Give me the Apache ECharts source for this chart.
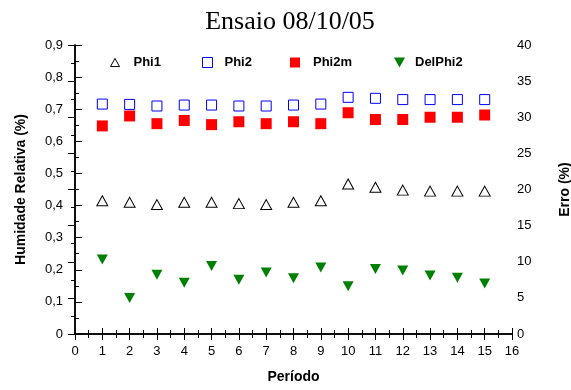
<!DOCTYPE html>
<html>
<head>
<meta charset="utf-8">
<script src="https://cdn.jsdelivr.net/npm/echarts@6/dist/echarts.min.js"></script>
<style>
  html, body { margin: 0; padding: 0; background: #fff; }
  #chart { width: 571px; height: 390px; }
</style>
</head>
<body>
<div id="chart"></div>
<script>
// Período 1..15
var periods = [1, 2, 3, 4, 5, 6, 7, 8, 9, 10, 11, 12, 13, 14, 15];

// Humidade relativa (fração) — eixo esquerdo
var phi1  = [0.415, 0.410, 0.403, 0.410, 0.410, 0.406, 0.403, 0.410, 0.415, 0.467, 0.457, 0.448, 0.445, 0.445, 0.445];
var phi2  = [0.716, 0.715, 0.710, 0.713, 0.713, 0.710, 0.710, 0.713, 0.716, 0.737, 0.734, 0.730, 0.730, 0.730, 0.730];
var phi2m = [0.648, 0.679, 0.655, 0.665, 0.652, 0.661, 0.655, 0.661, 0.655, 0.689, 0.668, 0.668, 0.675, 0.675, 0.682];

// Erro (%) — eixo direito
var delPhi2 = [10.3, 5.0, 8.2, 7.1, 9.4, 7.5, 8.5, 7.7, 9.2, 6.6, 9.0, 8.8, 8.1, 7.8, 7.0];

var seriesNames = ['Phi1', 'Phi2', 'Phi2m', 'DelPhi2'];

function pairs(xs, ys) {
  return xs.map(function (x, i) { return [x, ys[i]]; });
}

var fontSans = 'Liberation Sans, Arial, sans-serif';
var downTri = 'path://M0,0 L10,0 L5,9 Z';
var upTri = 'path://M5,0 L10,9 L0,9 Z';

var chart = echarts.init(document.getElementById('chart'), null, { renderer: 'canvas' });

var axisLineStyle = { color: '#000', width: 1.5 };
var tickStyle = { color: '#000', width: 1 };

// one legend block per series so each entry sits at its own spot inside the frame
function legendAt(name, left, size, padLeft) {
  return {
    data: [name],
    left: left,
    top: 56,
    itemWidth: size,
    itemHeight: size,
    itemGap: 0,
    itemStyle: { borderWidth: 1 },
    textStyle: { fontFamily: fontSans, fontWeight: 'bold', fontSize: 13, color: '#000', padding: [0, 0, 0, padLeft] },
    padding: 0
  };
}

chart.setOption({
  animation: false,
  backgroundColor: '#fff',
  title: {
    text: 'Ensaio 08/10/05',
    left: 285,
    textAlign: 'center',
    top: 4,
    textStyle: { fontFamily: 'Liberation Serif, Times New Roman, serif', fontWeight: 'normal', fontSize: 26, color: '#000' }
  },
  legend: [
    legendAt(seriesNames[0], 110, 9, 9),
    legendAt(seriesNames[1], 202, 10, 7),
    legendAt(seriesNames[2], 290, 10, 8),
    legendAt(seriesNames[3], 394, 11, 5)
  ],
  grid: { left: 75, right: 59, top: 45, bottom: 56, outerBoundsMode: 'none', containLabel: false },
  xAxis: [
    {
      type: 'value', min: 0, max: 16, interval: 1,
      name: 'Período', nameLocation: 'middle', nameGap: 36,
      nameTextStyle: { fontFamily: fontSans, fontWeight: 'bold', fontSize: 14, color: '#000' },
      axisLine: { show: true, lineStyle: axisLineStyle },
      axisTick: { show: true, inside: true, length: 6, lineStyle: tickStyle },
      minorTick: { show: true, splitNumber: 2, length: 4, lineStyle: tickStyle },
      axisLabel: { margin: 11, fontFamily: fontSans, fontSize: 13, color: '#000' },
      splitLine: { show: false }
    },
    {
      type: 'value', min: 0, max: 16, interval: 1, position: 'top',
      axisLine: { show: true, lineStyle: axisLineStyle },
      axisTick: { show: true, inside: true, length: 6, lineStyle: tickStyle },
      minorTick: { show: true, splitNumber: 2, length: 4, lineStyle: tickStyle },
      axisLabel: { show: false },
      splitLine: { show: false }
    }
  ],
  yAxis: [
    {
      type: 'value', min: 0, max: 0.9, interval: 0.1, position: 'left',
      name: 'Humidade Relativa (%)', nameLocation: 'middle', nameGap: 47, nameRotate: 90,
      nameTextStyle: { fontFamily: fontSans, fontWeight: 'bold', fontSize: 14, color: '#000' },
      axisLine: { show: true, lineStyle: axisLineStyle },
      axisTick: { show: true, inside: true, length: 7, lineStyle: tickStyle },
      minorTick: { show: true, splitNumber: 2, length: 4, lineStyle: tickStyle },
      axisLabel: {
        margin: 12, fontFamily: fontSans, fontSize: 13, color: '#000',
        formatter: function (v) { return (Math.round(v * 10) / 10).toString().replace('.', ','); }
      },
      splitLine: { show: false }
    },
    {
      type: 'value', min: 0, max: 40, interval: 5, position: 'right',
      name: 'Erro (%)', nameLocation: 'middle', nameGap: 46, nameRotate: 90,
      nameTextStyle: { fontFamily: fontSans, fontWeight: 'bold', fontSize: 14, color: '#000' },
      axisLine: { show: true, lineStyle: axisLineStyle },
      axisTick: { show: true, inside: true, length: 7, lineStyle: tickStyle },
      minorTick: { show: true, splitNumber: 2, length: 4, lineStyle: tickStyle },
      axisLabel: { margin: 5, fontFamily: fontSans, fontSize: 13, color: '#000' },
      splitLine: { show: false }
    }
  ],
  series: [
    {
      name: seriesNames[0], type: 'scatter', xAxisIndex: 0, yAxisIndex: 0,
      symbol: upTri, symbolSize: [11, 10],
      itemStyle: { color: '#fff', borderColor: '#000', borderWidth: 1, opacity: 1 },
      data: pairs(periods, phi1)
    },
    {
      name: seriesNames[1], type: 'scatter', xAxisIndex: 0, yAxisIndex: 0,
      symbol: 'rect', symbolSize: 10,
      itemStyle: { color: '#fff', borderColor: '#0000ff', borderWidth: 1, opacity: 1 },
      data: pairs(periods, phi2)
    },
    {
      name: seriesNames[2], type: 'scatter', xAxisIndex: 0, yAxisIndex: 0,
      symbol: 'rect', symbolSize: 11,
      itemStyle: { color: '#ff0000', opacity: 1 },
      data: pairs(periods, phi2m)
    },
    {
      name: seriesNames[3], type: 'scatter', xAxisIndex: 0, yAxisIndex: 1,
      symbol: downTri, symbolSize: [11, 10],
      itemStyle: { color: '#008000', opacity: 1 },
      data: pairs(periods, delPhi2)
    }
  ]
});
</script>
</body>
</html>
